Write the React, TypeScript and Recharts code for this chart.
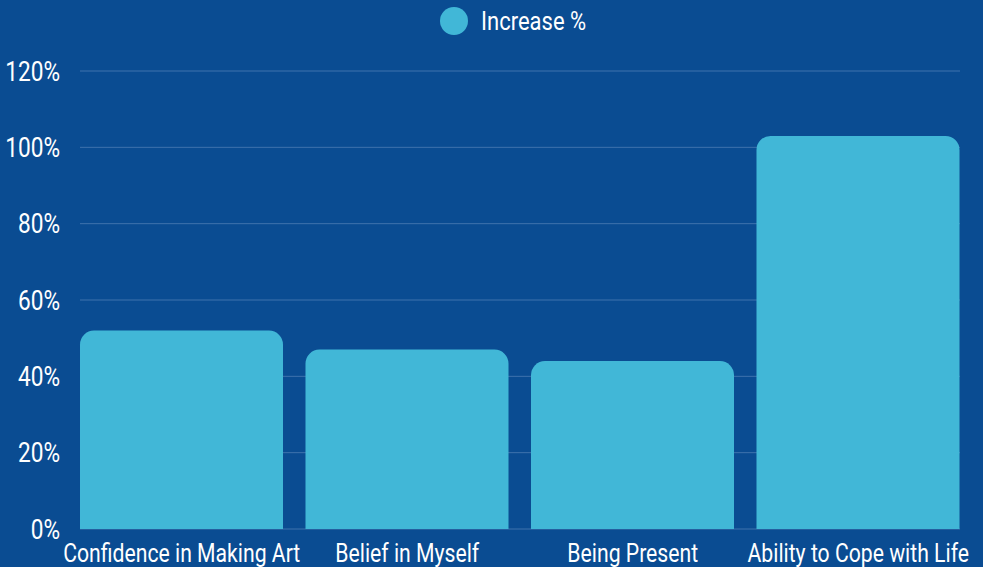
import React from 'react';
import { BarChart, Bar, XAxis, YAxis, CartesianGrid, Legend } from 'recharts';

const categories = ['Confidence in Making Art', 'Belief in Myself', 'Being Present', 'Ability to Cope with Life'];
const increase = [52, 47, 44, 103];
const yTicks = [0, 20, 40, 60, 80, 100, 120];

const data = categories.map((name, i) => ({ name, increase: increase[i] }));

const BG = '#0a4c92';
const BAR = '#41b7d7';
const FONT = 'Roboto, sans-serif';

// the reference uses a condensed face, so squeeze Roboto horizontally
const XTick = ({ x, y, payload }: any) => (
  <g transform={`translate(${x},${y})`}>
    <text transform="scale(0.815,1)" textAnchor="middle" dy={27} fill="#ffffff" fontSize={26} fontFamily={FONT}>
      {payload.value}
    </text>
  </g>
);

const YTick = ({ x, y, payload }: any) => (
  <g transform={`translate(${x},${y})`}>
    <text transform="scale(0.84,1)" textAnchor="end" dy="0.355em" fill="#ffffff" fontSize={27} fontFamily={FONT}>
      {`${payload.value}%`}
    </text>
  </g>
);

const LegendContent = ({ payload }: any) => (
  <div style={{ display: 'flex', alignItems: 'center', height: 40 }}>
    {(payload || []).map((p: any) => (
      <div key={p.value} style={{ display: 'flex', alignItems: 'center' }}>
        <svg width={28} height={28} style={{ marginRight: 13 }}>
          <circle cx={14} cy={14} r={14} fill={BAR} />
        </svg>
        <span
          style={{
            display: 'inline-block',
            color: '#ffffff',
            fontSize: 25,
            fontFamily: FONT,
            transform: 'scaleX(0.88)',
            transformOrigin: 'left center',
            whiteSpace: 'nowrap',
          }}
        >
          {p.value}
        </span>
      </div>
    ))}
  </div>
);

export default function App() {
  return (
    <div style={{ position: 'fixed', top: 0, left: 0, width: 983, height: 567, background: BG, fontFamily: FONT }}>
      <BarChart
        width={983}
        height={567}
        data={data}
        margin={{ top: 31, right: 23, bottom: 0, left: 0 }}
        barCategoryGap={0}
      >
        <CartesianGrid vertical={false} stroke="#3f72ad" strokeWidth={1} />
        <Legend
          verticalAlign="top"
          align="left"
          content={<LegendContent />}
          wrapperStyle={{ top: 1, left: 440, width: 300, height: 40 }}
        />
        <XAxis
          dataKey="name"
          axisLine={false}
          tickLine={false}
          interval={0}
          padding={{ left: -11, right: -11 }}
          tick={<XTick />}
          height={38}
          tickMargin={0}
        />
        <YAxis
          domain={[0, 120]}
          ticks={yTicks}
          axisLine={false}
          tickLine={false}
          width={80}
          tickMargin={14}
          tick={<YTick />}
        />
        <Bar
          dataKey="increase"
          name="Increase %"
          fill={BAR}
          barSize={203}
          radius={[14, 14, 0, 0]}
          isAnimationActive={false}
        />
      </BarChart>
    </div>
  );
}
